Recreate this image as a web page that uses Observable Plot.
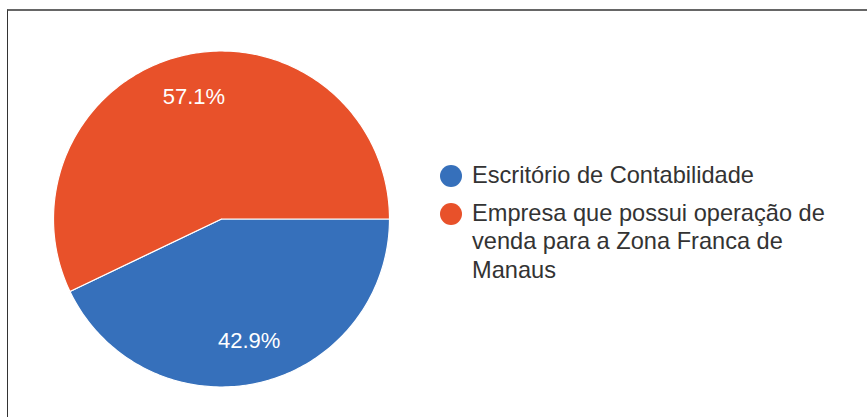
<!DOCTYPE html>
<html><head><meta charset="utf-8">
<script src="https://cdn.jsdelivr.net/npm/d3@7"></script>
<script src="https://cdn.jsdelivr.net/npm/@observablehq/plot@0.6"></script>
<style>
html,body{margin:0;padding:0;background:#fff;}
body{width:867px;height:417px;position:relative;overflow:hidden;font-family:"Liberation Sans",Arial,sans-serif;}
#chart{position:absolute;left:0;top:0;}
#frame{position:absolute;left:7px;top:9px;right:-4px;bottom:-4px;border-top:2px solid #666;border-left:1px solid #333;pointer-events:none;}
#legend{position:absolute;left:440px;top:160.8px;}
.item{position:relative;padding-left:32px;width:380px;font-size:23.6px;line-height:28.5px;color:#333;margin-bottom:9.5px;}
.dot{position:absolute;left:0;top:4px;width:22px;height:22px;border-radius:50%;}
</style></head>
<body>
<div id="chart"></div>
<div id="legend"></div>
<div id="frame"></div>
<script>
const categories = ["Escritório de Contabilidade", "Empresa que possui operação de venda para a Zona Franca de Manaus"];
const values = [42.9, 57.1];
const colors = ["#3670bb", "#e8512a"];

const pie = d3.pie().sort(null).startAngle(Math.PI / 2).endAngle(Math.PI / 2 + 2 * Math.PI)(values);

const outline = [];
pie.forEach((s, i) => {
  const n = Math.max(2, Math.ceil((s.endAngle - s.startAngle) / (2 * Math.PI) * 360));
  outline.push({category: categories[i], x: 0, y: 0});
  for (let k = 0; k <= n; k++) {
    const a = s.startAngle + (s.endAngle - s.startAngle) * k / n;
    outline.push({category: categories[i], x: Math.sin(a), y: Math.cos(a)});
  }
  outline.push({category: categories[i], x: 0, y: 0});
});

const labels = pie.map((s, i) => {
  const a = (s.startAngle + s.endAngle) / 2;
  return {x: 0.744 * Math.sin(a), y: 0.744 * Math.cos(a), text: values[i].toFixed(1) + "%"};
});

const chart = Plot.plot({
  width: 440,
  height: 417,
  marginLeft: 53,
  marginRight: 51,
  marginTop: 50.5,
  marginBottom: 30.5,
  x: {domain: [-1, 1], axis: null},
  y: {domain: [-1, 1], axis: null},
  color: {domain: categories, range: colors},
  style: {background: "transparent"},
  marks: [
    Plot.line(outline, {x: "x", y: "y", z: "category", fill: "category", stroke: "white", strokeWidth: 1.2, curve: "linear"}),
    Plot.text(labels, {x: "x", y: "y", text: "text", fill: "white", fontSize: 22, fontFamily: "Liberation Sans, Arial, sans-serif"})
  ]
});
document.getElementById("chart").appendChild(chart);

const legend = document.getElementById("legend");
categories.forEach((c, i) => {
  const item = document.createElement("div");
  item.className = "item";
  const dot = document.createElement("span");
  dot.className = "dot";
  dot.style.background = colors[i];
  item.appendChild(dot);
  item.appendChild(document.createTextNode(c));
  legend.appendChild(item);
});
</script>
</body></html>
